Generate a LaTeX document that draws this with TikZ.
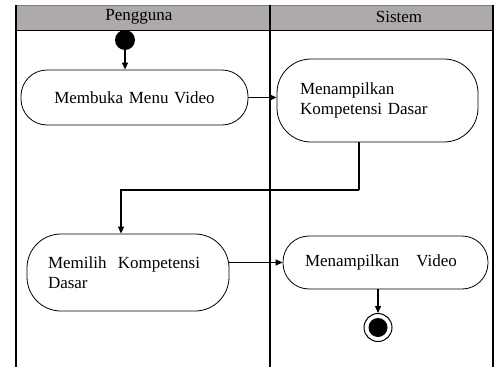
\documentclass[tikz,border=0pt]{standalone}
\usepackage{fontspec}
\setmainfont{Liberation Serif}
\usetikzlibrary{arrows.meta}
\definecolor{lanegray}{RGB}{174,170,170}

\begin{document}
\begin{tikzpicture}
          [x=1pt,y=-1pt,
           lane/.style={font=\fontsize{17}{20}\selectfont},
           action/.style={draw,rectangle,rounded corners=26pt,line width=0.8pt,inner xsep=0pt,inner ysep=0pt,font=\fontsize{17}{20}\selectfont,align=left},
           flow/.style={line width=1.3pt,-{Triangle[length=7pt,width=6pt]}}]

          \useasboundingbox (0,0) rectangle (496,367);

          % swimlanes
          \fill[lanegray] (16,5) rectangle (493,30);
          \draw[gray,line width=0.6pt] (16,5) -- (493,5);
          \draw[line width=0.8pt] (16,30) -- (493,30);
          \draw[line width=2pt] (16,5) -- (16,367);
          \draw[line width=2pt] (270,5) -- (270,367);
          \draw[line width=1.5pt] (493,5) -- (493,367);
          \node[lane] (user) at (139,17) {Pengguna};
          \node[lane] (sys) at (399,17) {Sistem};

          % activities
          \node[circle,fill=black,inner sep=0pt,minimum size=20pt] (start) at (125,40) {};
          \node[action,minimum width=227pt,minimum height=55pt,text width=180pt,align=center] (a1) at (134.5,97.5) {Membuka Menu Video};
          \node[action,rounded corners=34pt,minimum width=201pt,minimum height=83pt,text width=155pt] (a2) at (377.5,100.5) {Menampilkan\\Kompetensi Dasar};
          \node[action,rounded corners=34pt,minimum width=202pt,minimum height=77pt,text width=160pt] (a3) at (128,272.5) {Memilih\ \ Kompetensi\\Dasar};
          \node[action,minimum width=205pt,minimum height=53pt,text width=161pt] (a4) at (385.5,262.5) {Menampilkan\ \ \ Video};
          \node[circle,draw,line width=1pt,fill=white,minimum size=28pt,inner sep=0pt] (stop) at (378,327.5) {};
          \node[circle,fill=black,minimum size=19pt,inner sep=0pt] (stopdot) at (stop) {};
          \coordinate (turn) at (359,190);

          \draw[flow] (start) -- (start |- a1.north);
          \draw[flow] (a1.east) -- (a1.east -| a2.west);
          \draw[line width=1.3pt] (turn |- a2.south) -- (turn);
          \draw[flow] (turn) -| ([xshift=-7pt]a3.north);
          \draw[flow] (a4.west -| a3.east) -- (a4.west);
          \draw[flow] (a4.south -| stop) -- (stop);
        \end{tikzpicture}
\end{document}
